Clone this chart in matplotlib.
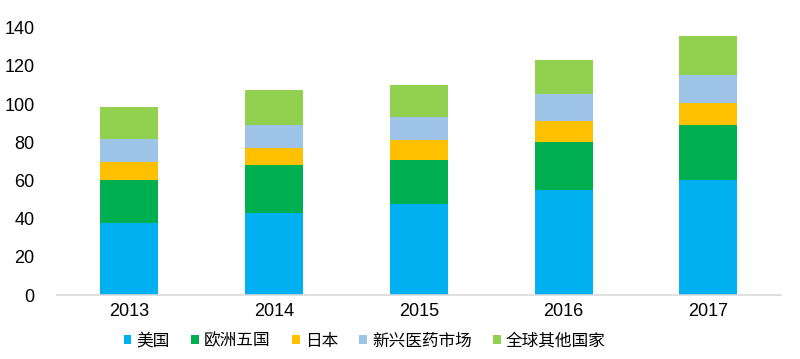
import matplotlib
matplotlib.use("Agg")
import matplotlib.pyplot as plt
import numpy as np

plt.rcParams['font.family'] = ['Liberation Sans', 'Noto Sans CJK SC', 'DejaVu Sans']

years = ['2013', '2014', '2015', '2016', '2017']
series_names = ['美国', '欧洲五国', '日本', '新兴医药市场', '全球其他国家']
us = [37.5, 42.8, 47.6, 55.0, 60.0]
eu5 = [22.7, 25.3, 23.1, 25.3, 28.8]
japan = [9.6, 8.9, 10.6, 10.6, 11.9]
emerging = [11.7, 11.8, 11.7, 14.2, 14.5]
others = [16.8, 18.7, 16.9, 18.1, 20.4]
colors = ['#00B0F0', '#00B050', '#FFC000', '#9DC3E6', '#92D050']

fig = plt.figure(figsize=(8, 3.59), dpi=100)
ax = fig.add_axes([0.071, 0.178, 0.905, 0.745])

x = np.arange(len(years))
bottom = np.zeros(len(years))
handles = []
for name, vals, c in zip(series_names, [us, eu5, japan, emerging, others], colors):
    b = ax.bar(x, vals, 0.4, bottom=bottom, color=c, label=name, linewidth=0)
    handles.append(b)
    bottom += np.array(vals)

ax.set_xlim(-0.5, 4.5)
ax.set_ylim(0, 140)
ax.set_yticks(range(0, 141, 20))
ax.set_xticks(x)
ax.set_xticklabels(years)
for s in ['top', 'right', 'left']:
    ax.spines[s].set_visible(False)
ax.spines['bottom'].set_color('#D9D9D9')
ax.spines['bottom'].set_linewidth(1.2)
ax.tick_params(axis='both', length=0, labelsize=13)
ax.tick_params(axis='y', pad=16)
ax.tick_params(axis='x', pad=6)

leg = fig.legend(handles=handles, labels=series_names, loc='center', bbox_to_anchor=(0.456, 0.05),
                 ncol=5, frameon=False, handlelength=0.45, handleheight=0.45, handletextpad=0.3,
                 columnspacing=1.3, prop={'family': ['Noto Sans CJK SC', 'DejaVu Sans'], 'size': 12})

fig.savefig('out.png', dpi=100)
